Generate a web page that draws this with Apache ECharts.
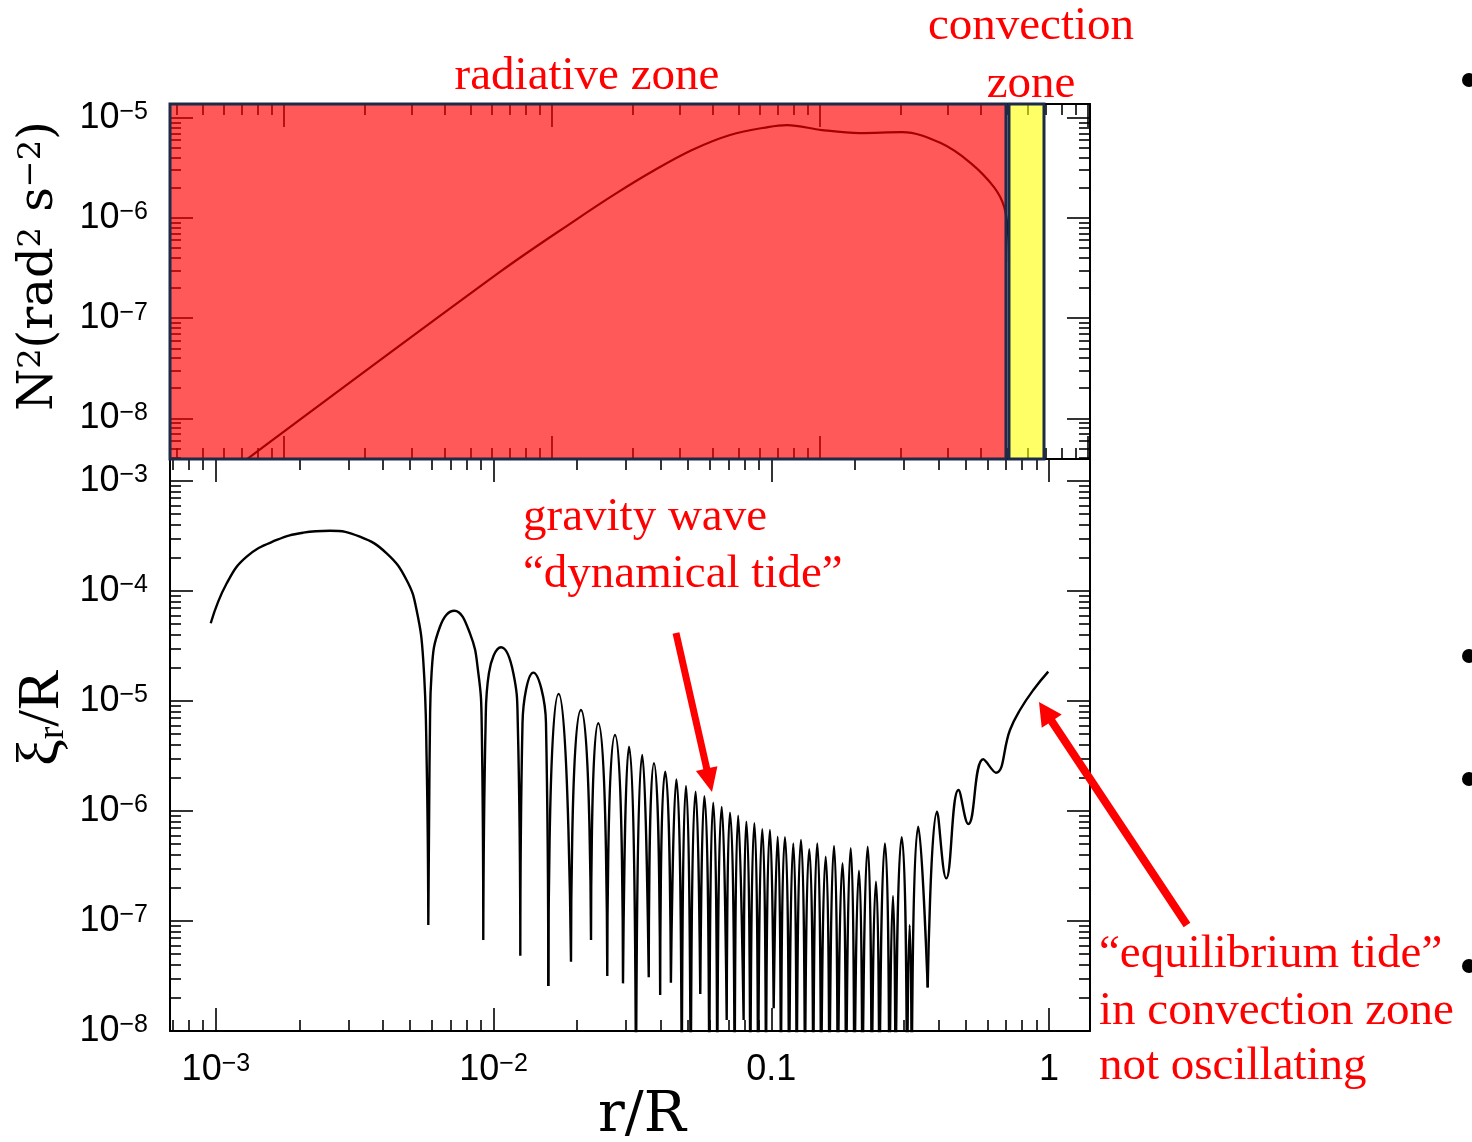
<!DOCTYPE html>
<html><head><meta charset="utf-8">
<script src="https://cdn.jsdelivr.net/npm/echarts@6/dist/echarts.min.js"></script>
<style>html,body{margin:0;padding:0;background:#fff}#c{width:1472px;height:1142px}</style>
</head><body><div id="c"></div>
<script>
// ---------------- data ----------------
// Upper panel: buoyancy frequency N^2 (rad^2 s^-2) vs radius (panel's own log x scale)
const topXRange = [3.765e-4, 1.02];
const topYRange = [3.93e-9, 1.371e-5];
const topMajorX = [1e-3, 1e-2, 1e-1, 1];
const topMajorY = [1e-8, 1e-7, 1e-6, 1e-5];
const n2Profile = [
  [5.0e-4, 1.84e-9], [6.41e-3, 2.89e-7], [1.243e-2, 9.75e-7], [1.722e-2, 1.73e-6],
  [2.388e-2, 2.94e-6], [3.34e-2, 4.76e-6], [4.63e-2, 6.72e-6], [6.41e-2, 8.07e-6],
  [7.55e-2, 8.45e-6], [0.102, 7.53e-6], [0.141, 7.03e-6], [0.203, 7.19e-6],
  [0.283, 5.58e-6], [0.366, 3.53e-6], [0.447, 2.03e-6], [0.488, 1.29e-6],
  [0.505, 6.8e-7], [0.5085, 3.63e-7]
];
const radiativeZone = [3.765e-4, 0.4956];
const convectionZone = [0.5085, 0.687];

// Lower panel: radial displacement xi_r/R vs r/R
const botXRange = [6.835e-4, 1.405];
const botYRange = [1e-8, 1.585e-3];
const botMajorX = [1e-3, 1e-2, 1e-1, 1];
const botMajorY = [1e-8, 1e-7, 1e-6, 1e-5, 1e-4, 1e-3];
const OFF = 1e-9; // nodes that plunge below the axis
const xiLobes = [
  [[9.58e-4,5.09e-5],[1.094e-3,1.175e-4],[1.291e-3,2.05e-4],[1.656e-3,2.91e-4],[2.065e-3,3.39e-4],[2.576e-3,3.53e-4],[3.30e-3,3.12e-4],[4.12e-3,2.20e-4],[4.86e-3,1.26e-4],[5.28e-3,6.72e-5],[5.58e-3,2.36e-5],[5.74e-3,2.91e-6],[5.82e-3,9.2e-8]],
  [[5.82e-3,9.2e-8],[5.90e-3,5.83e-6],[5.98e-3,1.80e-5],[6.41e-3,4.73e-5],[7.22e-3,6.62e-5],[8.22e-3,4.12e-5],[8.81e-3,1.80e-5],[9.06e-3,6.31e-6],[9.18e-3,6.71e-8]],
  [[9.18e-3,6.71e-8],[9.36e-3,6.27e-6],[9.62e-3,1.79e-5],[1.064e-2,3.08e-5],[1.178e-2,1.79e-5],[1.222e-2,6.27e-6],[1.248e-2,4.84e-8]],
  [[1.248e-2,4.84e-8],[1.271e-2,6.31e-6],[1.390e-2,1.81e-5],[1.544e-2,6.31e-6],[1.574e-2,2.56e-8]],
  [[1.574e-2,2.56e-8],[1.715e-2,1.16e-5],[1.900e-2,4.27e-8]],
  [[1.900e-2,4.27e-8],[2.064e-2,8.28e-6],[2.243e-2,6.71e-8]],
  [[2.243e-2,6.71e-8],[2.382e-2,6.27e-6],[2.567e-2,3.16e-8]],
  [[2.567e-2,3.16e-8],[2.736e-2,4.91e-6],[2.924e-2,2.71e-8]],
  [[2.924e-2,2.71e-8],[3.073e-2,3.85e-6],[3.257e-2,OFF]],
  [[3.257e-2,OFF],[3.43e-2,3.23e-6],[3.62e-2,3.08e-8]],
  [[3.62e-2,3.08e-8],[3.78e-2,2.72e-6],[3.98e-2,2.12e-8]],
  [[3.98e-2,2.12e-8],[4.15e-2,2.28e-6],[4.35e-2,2.75e-8]],
  [[4.35e-2,2.75e-8],[4.55e-2,1.94e-6],[4.76e-2,OFF]],
  [[4.76e-2,OFF],[4.93e-2,1.69e-6],[5.13e-2,OFF]],
  [[5.13e-2,OFF],[5.34e-2,1.50e-6],[5.55e-2,2.17e-8]],
  [[5.55e-2,2.17e-8],[5.74e-2,1.36e-6],[5.98e-2,OFF]],
  [[5.98e-2,OFF],[6.18e-2,1.19e-6],[6.39e-2,OFF]],
  [[6.39e-2,OFF],[6.63e-2,1.09e-6],[6.91e-2,1.26e-8]],
  [[6.91e-2,1.26e-8],[7.10e-2,9.66e-7],[7.38e-2,OFF]],
  [[7.38e-2,OFF],[7.60e-2,9.06e-7],[7.95e-2,1.26e-8]],
  [[7.95e-2,1.26e-8],[8.13e-2,8.00e-7],[8.40e-2,OFF]],
  [[8.40e-2,OFF],[8.69e-2,7.73e-7],[8.96e-2,OFF]],
  [[8.96e-2,OFF],[9.28e-2,6.82e-7],[9.57e-2,OFF]],
  [[9.57e-2,OFF],[9.89e-2,6.71e-7],[0.1020,1.61e-8]],
  [[0.1020,1.61e-8],[0.1054,5.83e-7],[0.1083,OFF]],
  [[0.1083,OFF],[0.1120,5.77e-7],[0.1158,OFF]],
  [[0.1158,OFF],[0.1200,5.08e-7],[0.1234,OFF]],
  [[0.1234,OFF],[0.1279,5.45e-7],[0.1322,OFF]],
  [[0.1322,OFF],[0.1370,4.49e-7],[0.1416,OFF]],
  [[0.1416,OFF],[0.1464,5.08e-7],[0.1510,OFF]],
  [[0.1510,OFF],[0.1570,3.85e-7],[0.1618,OFF]],
  [[0.1618,OFF],[0.1682,4.81e-7],[0.1734,OFF]],
  [[0.1734,OFF],[0.1805,3.35e-7],[0.1858,OFF]],
  [[0.1858,OFF],[0.1932,4.58e-7],[0.1990,OFF]],
  [[0.1990,OFF],[0.2069,2.86e-7],[0.2127,OFF]],
  [[0.2127,OFF],[0.2224,4.73e-7],[0.2298,OFF]],
  [[0.2298,OFF],[0.2382,2.28e-7],[0.2448,OFF]],
  [[0.2448,OFF],[0.2566,5.08e-7],[0.2660,OFF]],
  [[0.2660,OFF],[0.2743,1.69e-7],[0.2800,OFF]],
  [[0.2800,OFF],[0.2949,5.77e-7],[0.3081,OFF]],
  [[0.3081,OFF],[0.3150,9.2e-8],[0.3203,OFF]],
  [[0.3203,OFF],[0.3383,7.19e-7],[0.3658,2.49e-8]],
  [[0.3658,2.49e-8],[0.3951,9.87e-7],[0.4267,2.44e-7],[0.4721,1.55e-6],[0.5122,7.62e-7],[0.5800,2.95e-6],[0.6443,2.23e-6],[0.7236,5.45e-6],[0.786,8.28e-6],[0.878,1.26e-5],[0.994,1.85e-5]]
];

// ---------------- helpers ----------------
function minorTicks(range) {
  const out = [];
  const e0 = Math.floor(Math.log10(range[0])), e1 = Math.ceil(Math.log10(range[1]));
  for (let e = e0; e <= e1; e++) for (let m = 2; m <= 9; m++) {
    const v = m * Math.pow(10, e);
    if (v > range[0] && v < range[1]) out.push(v);
  }
  return out;
}
const supRich = {
  b: {fontSize: 36, fontFamily: 'Liberation Sans', color: '#000', lineHeight: 36},
  s: {fontSize: 25, fontFamily: 'Liberation Sans', color: '#000', verticalAlign: 'top', lineHeight: 25}
};
function powLabel(v) {
  const e = Math.round(Math.log10(v));
  return '{b|10}{s|\u2212' + Math.abs(e) + '}';
}
function xLabel(v) {
  const e = Math.round(Math.log10(v));
  if (e === 0) return '{b|1}';
  if (e === -1) return '{b|0.1}';
  return powLabel(v);
}
function axis(grid, pos, range, ticks, len, showLine, label) {
  return {
    type: 'log', logBase: 10, gridIndex: grid, position: pos, min: range[0], max: range[1],
    axisLine: {show: showLine, onZero: false, lineStyle: {color: '#000', width: 2}},
    axisTick: {show: true, inside: true, length: len, customValues: ticks, lineStyle: {color: '#000', width: 1.6}},
    axisLabel: label || {show: false},
    splitLine: {show: false}, minorTick: {show: false}, minorSplitLine: {show: false}
  };
}
const MAJ = 23, MIN = 11;
const xAxes = [
  axis(0, 'bottom', topXRange, topMajorX, MAJ, true),
  axis(0, 'bottom', topXRange, minorTicks(topXRange), MIN, false),
  axis(0, 'top', topXRange, topMajorX, MAJ, true),
  axis(0, 'top', topXRange, minorTicks(topXRange), MIN, false),
  axis(1, 'bottom', botXRange, botMajorX, MAJ, true, {
    show: true, customValues: botMajorX, margin: 21, formatter: xLabel, rich: supRich
  }),
  axis(1, 'bottom', botXRange, minorTicks(botXRange), MIN, false),
  axis(1, 'top', botXRange, botMajorX, MAJ, true),
  axis(1, 'top', botXRange, minorTicks(botXRange), MIN, false)
];
const yAxes = [
  axis(0, 'left', topYRange, topMajorY, MAJ, true, {
    show: true, customValues: topMajorY, margin: 22, formatter: powLabel, rich: supRich
  }),
  axis(0, 'left', topYRange, minorTicks(topYRange), MIN, false),
  axis(0, 'right', topYRange, topMajorY, MAJ, true),
  axis(0, 'right', topYRange, minorTicks(topYRange), MIN, false),
  axis(1, 'left', botYRange, botMajorY, MAJ, true, {
    show: true, customValues: botMajorY, margin: 22, formatter: powLabel, rich: supRich
  }),
  axis(1, 'left', botYRange, minorTicks(botYRange), MIN, false),
  axis(1, 'right', botYRange, botMajorY, MAJ, true),
  axis(1, 'right', botYRange, minorTicks(botYRange), MIN, false)
];

// lobes joined with breaks so each node is a sharp cusp;
// densely read lobes and the narrow three-point lobes get different smoothing
function joinLobes(filter) {
  const out = [];
  xiLobes.forEach((lobe) => {
    if (!filter(lobe)) return;
    if (out.length) out.push([lobe[0][0], null]);
    lobe.forEach(p => out.push(p));
  });
  return out;
}
const xiWide = joinLobes(l => l.length > 3);
const xiNarrow = joinLobes(l => l.length <= 3);

function arrowPts(x1, y1, x2, y2, w, hl, hw) {
  const dx = x2 - x1, dy = y2 - y1, L = Math.hypot(dx, dy);
  const ux = dx / L, uy = dy / L, nx = -uy, ny = ux;
  const bx = x2 - ux * hl, by = y2 - uy * hl;
  return [[x1 + nx * w / 2, y1 + ny * w / 2], [bx + nx * w / 2, by + ny * w / 2], [bx + nx * hw, by + ny * hw],
          [x2, y2], [bx - nx * hw, by - ny * hw], [bx - nx * w / 2, by - ny * w / 2], [x1 - nx * w / 2, y1 - ny * w / 2]];
}
const RED = '#ff0000';
const annFont = '47px "Liberation Serif"';
function ann(text, x, y, align) {
  return {type: 'text', x: x, y: y, z: 100, style: {text: text, fill: RED, font: annFont, textAlign: align || 'left', textVerticalAlign: 'middle'}};
}

const chart = echarts.init(document.getElementById('c'), null, {renderer: 'canvas'});
chart.setOption({
  animation: false,
  backgroundColor: '#fff',
  grid: [
    {left: 170, top: 104, width: 920, height: 355, containLabel: false, outerBoundsMode: 'none'},
    {left: 170, top: 459, width: 920, height: 572, containLabel: false, outerBoundsMode: 'none'}
  ],
  xAxis: xAxes,
  yAxis: yAxes,
  series: [
    {
      type: 'line', xAxisIndex: 0, yAxisIndex: 0, data: n2Profile, showSymbol: false, smooth: 0.35,
      lineStyle: {color: '#000', width: 2.2}, clip: true, z: 2, silent: true
    },
    {
      type: 'custom', xAxisIndex: 0, yAxisIndex: 0, z: 10, silent: true,
      data: [[radiativeZone[0], radiativeZone[1], 0], [convectionZone[0], convectionZone[1], 1]],
      encode: {x: [0, 1], y: -1},
      renderItem: function (params, api) {
        const a = api.coord([api.value(0), topYRange[1]]);
        const b = api.coord([api.value(1), topYRange[0]]);
        const yellow = api.value(2) === 1;
        return {
          type: 'rect',
          shape: {x: a[0], y: a[1], width: b[0] - a[0], height: b[1] - a[1]},
          style: {fill: yellow ? 'rgba(255,255,0,0.6)' : 'rgba(255,0,0,0.65)', stroke: '#1d2a48', lineWidth: 3}
        };
      }
    },
    {
      type: 'line', xAxisIndex: 4, yAxisIndex: 4, data: xiWide, showSymbol: false, smooth: 0.45,
      connectNulls: false, lineStyle: {color: '#000', width: 2.4}, clip: true, z: 2, silent: true
    },
    {
      type: 'line', xAxisIndex: 4, yAxisIndex: 4, data: xiNarrow, showSymbol: false, smooth: 1,
      connectNulls: false, lineStyle: {color: '#000', width: 2.4}, clip: true, z: 2, silent: true
    }
  ],
  graphic: [
    ann('radiative zone', 587, 77, 'center'),
    ann('convection', 1031, 27, 'center'),
    ann('zone', 1031, 85, 'center'),
    ann('gravity wave', 523, 518),
    ann('\u201cdynamical tide\u201d', 523, 575),
    ann('\u201cequilibrium tide\u201d', 1099, 955),
    ann('in convection zone', 1099, 1012),
    ann('not oscillating', 1099, 1067),
    {type: 'polygon', z: 100, shape: {points: arrowPts(676, 633, 712, 792, 7, 24, 11)}, style: {fill: RED}},
    {type: 'polygon', z: 100, shape: {points: arrowPts(1187, 925, 1039, 702, 8, 23, 12)}, style: {fill: RED}},
    {
      type: 'text', x: 40, y: 266, rotation: Math.PI / 2, z: 100,
      style: {
        text: 'N{s|2}(rad{s|2} s{s|\u22122})', font: '48px "DejaVu Serif"', fill: '#000',
        textAlign: 'center', textVerticalAlign: 'middle',
        rich: {s: {fontSize: 32, fontFamily: 'DejaVu Serif', verticalAlign: 'top', fill: '#000'}}
      }
    },
    {
      type: 'text', x: 42, y: 718, rotation: Math.PI / 2, z: 100,
      style: {
        text: '\u03be{r|r}/R', font: '60px "Liberation Serif"', fill: '#000',
        textAlign: 'center', textVerticalAlign: 'middle',
        rich: {r: {fontSize: 38, fontFamily: 'Liberation Serif', verticalAlign: 'bottom', fill: '#000'}}
      }
    },
    {
      type: 'text', x: 642, y: 1116, z: 100,
      style: {text: 'r/R', font: '56px "DejaVu Serif"', fill: '#000', textAlign: 'center', textVerticalAlign: 'middle'}
    },
    {type: 'circle', shape: {cx: 1469, cy: 80, r: 7}, style: {fill: '#000'}},
    {type: 'circle', shape: {cx: 1469, cy: 656, r: 7}, style: {fill: '#000'}},
    {type: 'circle', shape: {cx: 1469, cy: 779, r: 7}, style: {fill: '#000'}},
    {type: 'circle', shape: {cx: 1469, cy: 966, r: 7}, style: {fill: '#000'}}
  ]
});
</script>
</body></html>
